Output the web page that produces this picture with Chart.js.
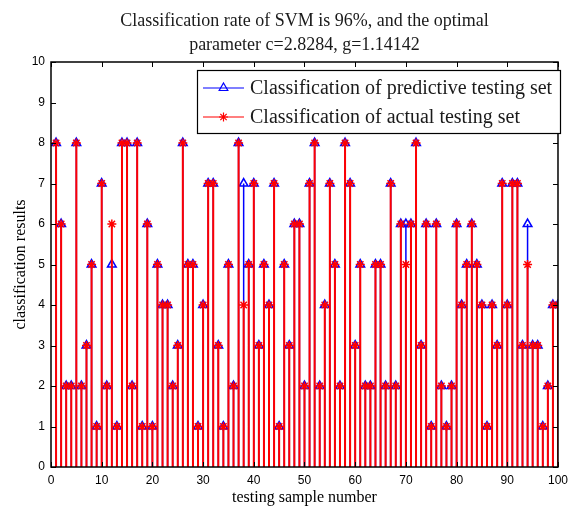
<!DOCTYPE html>
<html>
<head>
<meta charset="utf-8">
<script src="https://cdn.jsdelivr.net/npm/chart.js@4/dist/chart.umd.min.js"></script>
<style>
  html, body { margin: 0; padding: 0; background: #ffffff; }
  #wrap { width: 574px; height: 512px; position: relative; }
</style>
</head>
<body>
<div id="wrap"><canvas id="c" width="574" height="512"></canvas></div>
<script>
// ---- data ----
const titleLines = ["Classification rate of SVM is 96%, and the optimal", "parameter c=2.8284, g=1.14142"];
const xLabel = "testing sample number";
const yLabel = "classification results";
const seriesNames = ["Classification of predictive testing set", "Classification of actual testing set"];
const sampleNumbers = [1,2,3,4,5,6,7,8,9,10,11,12,13,14,15,16,17,18,19,20,21,22,23,24,25,26,27,28,29,30,31,32,33,34,35,36,37,38,39,40,41,42,43,44,45,46,47,48,49,50,51,52,53,54,55,56,57,58,59,60,61,62,63,64,65,66,67,68,69,70,71,72,73,74,75,76,77,78,79,80,81,82,83,84,85,86,87,88,89,90,91,92,93,94,95,96,97,98,99,100];
const actualClass = [
  8,6,2,2,8,2,3,5,1,7,
  2,6,1,8,8,2,8,1,6,1,
  5,4,4,2,3,8,5,5,1,4,
  7,7,3,1,5,2,8,4,5,7,
  3,5,4,7,1,5,3,6,6,2,
  7,8,2,4,7,5,2,8,7,3,
  5,2,2,5,5,2,7,2,6,5,
  6,8,3,6,1,6,2,1,2,6,
  4,5,6,5,4,1,4,3,7,4,
  7,7,3,5,3,3,1,2,4,4
];
const predictedClass = [
  8,6,2,2,8,2,3,5,1,7,
  2,5,1,8,8,2,8,1,6,1,
  5,4,4,2,3,8,5,5,1,4,
  7,7,3,1,5,2,8,7,5,7,
  3,5,4,7,1,5,3,6,6,2,
  7,8,2,4,7,5,2,8,7,3,
  5,2,2,5,5,2,7,2,6,6,
  6,8,3,6,1,6,2,1,2,6,
  4,5,6,5,4,1,4,3,7,4,
  7,7,3,6,3,3,1,2,4,4
];
const xTickStep = 10;
const yTickStep = 1;

// build stem-line points (base -> value -> gap) from the arrays
function stems(values) {
  const out = [];
  values.forEach((v, i) => {
    const x = sampleNumbers[i];
    out.push({x: x, y: 0}, {x: x, y: v}, {x: x, y: null});
  });
  return out;
}

const RED = '#ff0000', BLUE = '#0000ff';
const SERIF = '"Liberation Serif", "Times New Roman", serif';
const SANS = '"Liberation Sans", Arial, sans-serif';

const framePlugin = {
  id: 'frame',
  afterDatasetsDraw(chart) {
    const {ctx, chartArea: a, scales: {x, y}} = chart;
    ctx.save();
    ctx.strokeStyle = '#000';
    ctx.lineWidth = 1;
    const tl = 5;
    ctx.beginPath();
    for (let v = 0; v <= 100; v += xTickStep) {
      const px = Math.round(x.getPixelForValue(v)) + 0.5;
      ctx.moveTo(px, a.bottom); ctx.lineTo(px, a.bottom - tl);
      ctx.moveTo(px, a.top); ctx.lineTo(px, a.top + tl);
    }
    for (let v = 0; v <= 10; v += yTickStep) {
      const py = Math.round(y.getPixelForValue(v)) + 0.5;
      ctx.moveTo(a.left, py); ctx.lineTo(a.left + tl, py);
      ctx.moveTo(a.right, py); ctx.lineTo(a.right - tl, py);
    }
    ctx.stroke();
    ctx.lineWidth = 1.5;
    ctx.strokeRect(a.left, a.top, a.right - a.left, a.bottom - a.top);

    // legend box
    const lx = 197, ly = 70, lw = 363, lh = 63;
    ctx.fillStyle = '#fff';
    ctx.fillRect(lx, ly, lw, lh);
    ctx.lineWidth = 1.2;
    ctx.strokeStyle = '#000';
    ctx.strokeRect(lx + 0.5, ly + 0.5, lw, lh);
    const rows = [
      {y: ly + 18, color: BLUE, style: 'triangle', r: 5, text: seriesNames[0]},
      {y: ly + 47, color: RED, style: 'star', r: 4.5, text: seriesNames[1]}
    ];
    rows.forEach(r => {
      ctx.strokeStyle = r.color;
      ctx.lineWidth = 1.2;
      ctx.beginPath();
      ctx.moveTo(lx + 6, r.y); ctx.lineTo(lx + 47, r.y);
      ctx.stroke();
      ctx.fillStyle = 'rgba(255,255,255,0)';
      Chart.helpers.drawPoint(ctx, {pointStyle: r.style, radius: r.r, borderWidth: 1.3, rotation: 0}, lx + 26.5, r.y);
      ctx.fillStyle = '#1a1a1a';
      ctx.font = '20px ' + SERIF;
      ctx.textAlign = 'left';
      ctx.textBaseline = 'middle';
      ctx.fillText(r.text, lx + 53, r.y + 1);
    });

    // title
    ctx.fillStyle = '#1a1a1a';
    ctx.font = '18px ' + SERIF;
    ctx.textAlign = 'center';
    ctx.textBaseline = 'middle';
    const cx = (a.left + a.right) / 2;
    ctx.fillText(titleLines[0], cx, 21);
    ctx.fillText(titleLines[1], cx, 45);
    ctx.restore();
  }
};

new Chart(document.getElementById('c'), {
  type: 'line',
  data: {
    datasets: [
      {
        label: seriesNames[1],
        data: stems(actualClass),
        borderColor: RED,
        borderWidth: 2,
        backgroundColor: RED,
        pointStyle: 'star',
        pointBorderColor: RED,
        pointBorderWidth: 1.5,
        pointRadius: c => (c.dataIndex % 3 === 1 ? 4.5 : 0),
        spanGaps: false,
        tension: 0
      },
      {
        label: seriesNames[0],
        data: stems(predictedClass),
        borderColor: BLUE,
        borderWidth: 1.5,
        backgroundColor: 'rgba(0,0,0,0)',
        pointStyle: 'triangle',
        pointBorderColor: BLUE,
        pointBackgroundColor: 'rgba(255,255,255,0)',
        pointBorderWidth: 1.5,
        pointRadius: c => (c.dataIndex % 3 === 1 ? 5 : 0),
        spanGaps: false,
        tension: 0
      }
    ]
  },
  options: {
    responsive: false,
    animation: false,
    events: [],
    layout: {padding: {top: 62, right: 7, left: 0, bottom: 0}},
    plugins: {legend: {display: false}, title: {display: false}, tooltip: {enabled: false}},
    scales: {
      x: {
        type: 'linear', min: 0, max: 100,
        ticks: {stepSize: xTickStep, color: '#000', font: {family: SANS, size: 12}, padding: 6, maxRotation: 0, autoSkip: false},
        grid: {display: false, drawTicks: false},
        border: {display: false},
        title: {display: true, text: xLabel, color: '#000', font: {family: SERIF, size: 16}, padding: {top: 0, bottom: 5}},
        afterFit: s => { s.height = 45; }
      },
      y: {
        min: 0, max: 10,
        ticks: {stepSize: yTickStep, color: '#000', font: {family: SANS, size: 12}, padding: 6},
        grid: {display: false, drawTicks: false},
        border: {display: false},
        title: {display: true, text: yLabel, color: '#000', font: {family: SERIF, size: 16}, padding: {top: 11, bottom: 0}},
        afterFit: s => { s.width = 51; }
      }
    }
  },
  plugins: [framePlugin]
});
</script>
</body>
</html>
